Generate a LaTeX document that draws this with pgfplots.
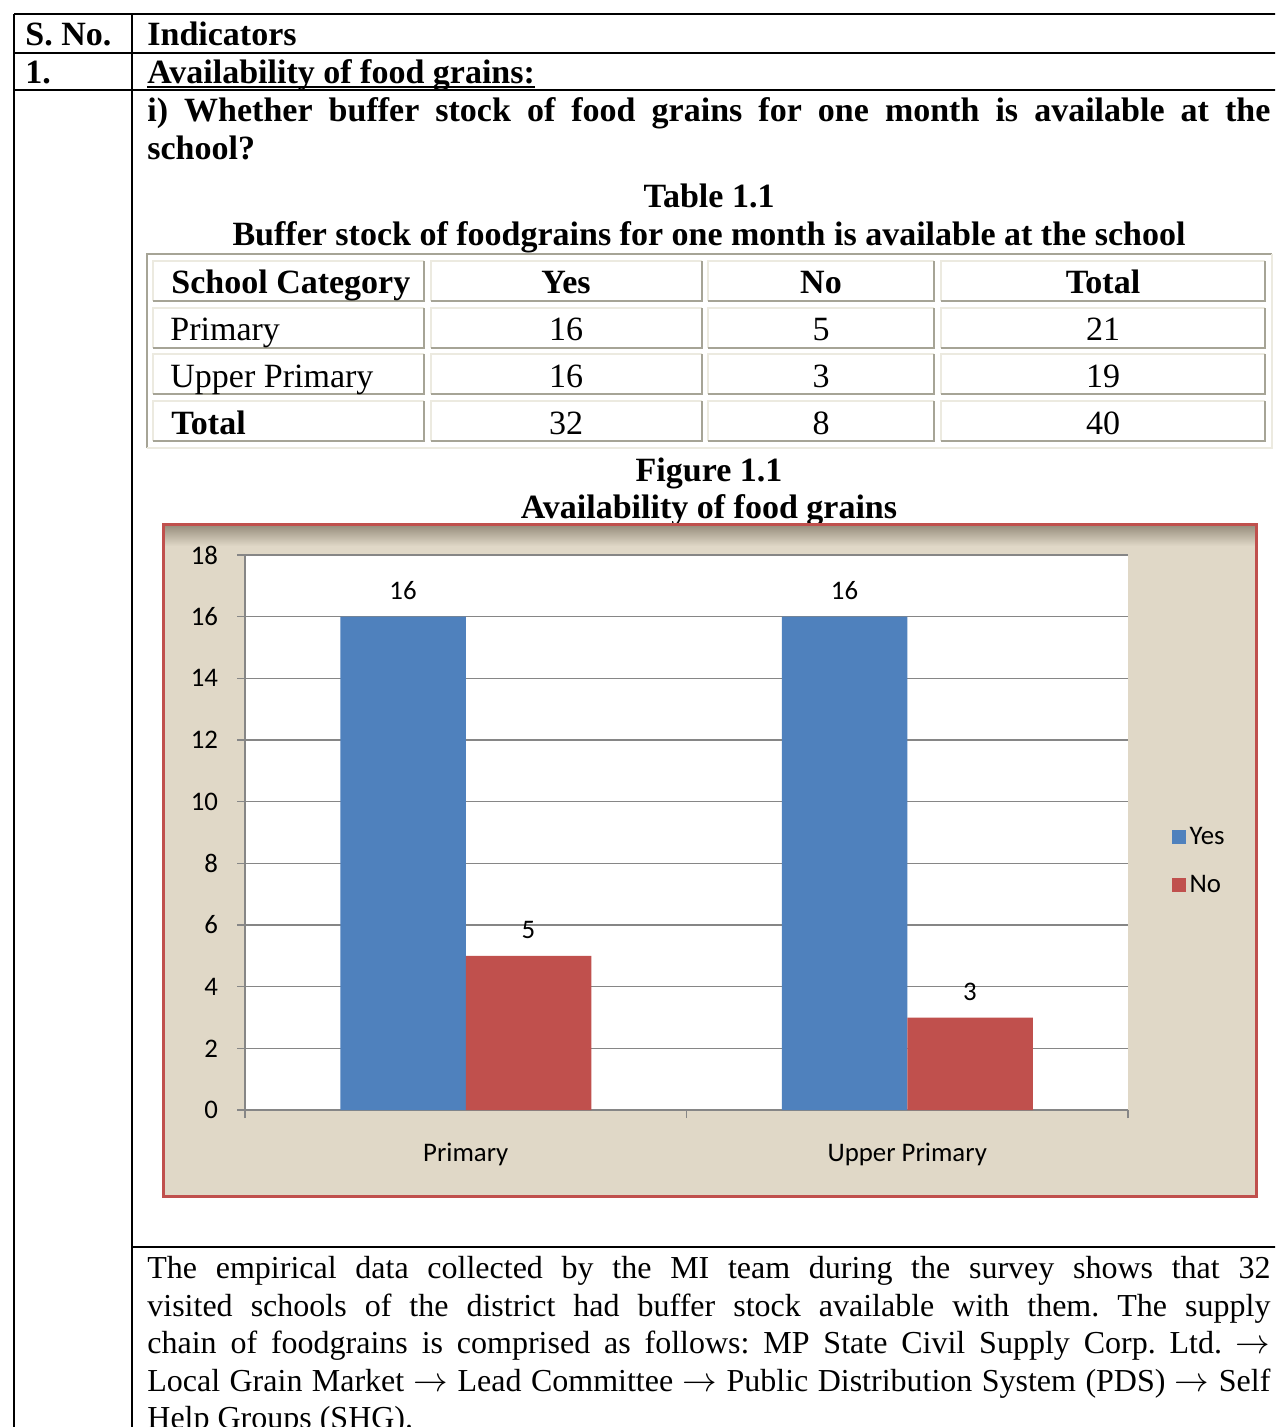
\documentclass[border=0pt]{standalone}
\usepackage{pgfplots}
\pgfplotsset{compat=1.18}
\usepackage{fontspec}
\setmainfont{Liberation Serif}
\newfontfamily\chartfont{Carlito}
\definecolor{barblue}{RGB}{79,129,189}
\definecolor{barred}{RGB}{192,80,77}
\definecolor{chartbg}{RGB}{224,216,199}
\definecolor{chartdark}{RGB}{150,141,124}
\definecolor{gridgray}{RGB}{134,134,134}
\definecolor{celllight}{RGB}{236,234,224}
\definecolor{celldark}{RGB}{166,164,150}
\frenchspacing
\newcommand{\jline}[2]{\hbox to #1{\spaceskip=0.25em plus 1fil minus 0.05em\relax #2}}
\newcommand{\bft}{\fontsize{17}{20}\selectfont\bfseries}
\newcommand{\rgt}{\fontsize{17}{20}\selectfont}
\newcommand{\bod}{\fontsize{16}{19}\selectfont}
\newcommand{\cf}{\chartfont\fontsize{13.4}{15}\selectfont}
\newcommand{\cell}[4]{%
  \draw[celllight,line width=1.3pt] (#1,#4) -- (#1,#2) -- (#3,#2);
  \draw[celldark,line width=1.3pt] (#3,#2) -- (#3,#4) -- (#1,#4);}
\begin{document}
\begin{tikzpicture}
\useasboundingbox (0,0) rectangle (637.5pt,-713.5pt);
\clip (0,0) rectangle (637.5pt,-713.5pt);
\begin{scope}[x=0.5pt,y=-0.5pt]
  % outer table lines
  \draw[line width=1pt] (14,14) -- (1290,14);
  \draw[line width=1pt] (14,53) -- (1290,53);
  \draw[line width=1pt] (14,90) -- (1290,90);
  \draw[line width=1pt] (14,14) -- (14,1440);
  \draw[line width=1pt] (132,14) -- (132,1440);
  \draw[line width=1pt] (132,1247) -- (1290,1247);
  % header texts
  \node[anchor=base west,inner sep=0] at (25,46) {\bft S. No.};
  \node[anchor=base west,inner sep=0] at (147,46) {\bft Indicators};
  \node[anchor=base west,inner sep=0] at (25,84) {\bft 1.};
  \node[anchor=base west,inner sep=0] (av) at (147,84) {\bft Availability of food grains:};
  \draw[line width=1pt] ([yshift=-1.6pt]av.base west) -- ([yshift=-1.6pt]av.base east);
  \node[anchor=base west,inner sep=0] at (147,122) {\bft\jline{561.5pt}{i) Whether buffer stock of food grains for one month is available at the}};
  \node[anchor=base west,inner sep=0] at (147,160) {\bft school?};
  \node[anchor=base,inner sep=0] at (709,208) {\bft Table 1.1};
  \node[anchor=base,inner sep=0] at (709,246) {\bft Buffer stock of foodgrains for one month is available at the school};
  % data table
  \draw[celldark,line width=1.3pt] (147,448) -- (147,254) -- (1272,254);
  \draw[celllight,line width=1.3pt] (1272,254) -- (1272,448) -- (147,448);
  \cell{153}{261}{424}{301}\cell{431}{261}{702}{301}\cell{708}{261}{934}{301}\cell{941}{261}{1265}{301}
  \cell{153}{308}{424}{348}\cell{431}{308}{702}{348}\cell{708}{308}{934}{348}\cell{941}{308}{1265}{348}
  \cell{153}{354}{424}{394}\cell{431}{354}{702}{394}\cell{708}{354}{934}{394}\cell{941}{354}{1265}{394}
  \cell{153}{401}{424}{441}\cell{431}{401}{702}{441}\cell{708}{401}{934}{441}\cell{941}{401}{1265}{441}
  \node[anchor=base west,inner sep=0] at (171,294) {\bft School Category};
  \node[anchor=base,inner sep=0] at (566,294) {\bft Yes};
  \node[anchor=base,inner sep=0] at (821,294) {\bft No};
  \node[anchor=base,inner sep=0] at (1103,294) {\bft Total};
  \node[anchor=base west,inner sep=0] at (170,341) {\rgt Primary};
  \node[anchor=base,inner sep=0] at (566,341) {\rgt 16};
  \node[anchor=base,inner sep=0] at (821,341) {\rgt 5};
  \node[anchor=base,inner sep=0] at (1103,341) {\rgt 21};
  \node[anchor=base west,inner sep=0] at (170,388) {\rgt Upper Primary};
  \node[anchor=base,inner sep=0] at (566,388) {\rgt 16};
  \node[anchor=base,inner sep=0] at (821,388) {\rgt 3};
  \node[anchor=base,inner sep=0] at (1103,388) {\rgt 19};
  \node[anchor=base west,inner sep=0] at (171,434) {\bft Total};
  \node[anchor=base,inner sep=0] at (566,434) {\rgt 32};
  \node[anchor=base,inner sep=0] at (821,434) {\rgt 8};
  \node[anchor=base,inner sep=0] at (1103,434) {\rgt 40};
  % figure title
  \node[anchor=base,inner sep=0] at (709,481) {\bft Figure 1.1};
  \node[anchor=base,inner sep=0] at (709,518) {\bft Availability of food grains};
  % chart area
  \fill[chartbg] (163,524) rectangle (1256,1196);
  \shade[top color=chartdark, bottom color=chartbg] (163,525) rectangle (1256,546);
  \draw[draw=barred,line width=1.5pt] (163,524) rectangle (1256,1196);
  % body text
  \node[anchor=base west,inner sep=0] at (147,1278) {\bod\jline{561.5pt}{The empirical data collected by the MI team during the survey shows that 32}};
  \node[anchor=base west,inner sep=0] at (147,1316) {\bod\jline{561.5pt}{visited schools of the district had buffer stock available with them. The supply}};
  \node[anchor=base west,inner sep=0] at (147,1353) {\bod\jline{561.5pt}{chain of foodgrains is comprised as follows: MP State Civil Supply Corp. Ltd. $\rightarrow$}};
  \node[anchor=base west,inner sep=0] at (147,1391) {\bod\jline{561.5pt}{Local Grain Market $\rightarrow$ Lead Committee $\rightarrow$ Public Distribution System (PDS) $\rightarrow$ Self}};
  \node[anchor=base west,inner sep=0] at (147,1428) {\bod Help Groups (SHG).};
\end{scope}
\begin{axis}[
  at={(122.5pt,-555pt)}, anchor=south west,
  scale only axis, width=441.5pt, height=277.5pt,
  xmin=-0.5, xmax=1.5, ymin=0, ymax=18,
  ybar=0pt, bar width=62.75pt,
  axis x line*=bottom, axis y line*=left,
  axis line style={draw=gridgray, line width=0.75pt, -},
  axis background/.style={fill=white},
  ymajorgrids, grid style={draw=gridgray, line width=0.75pt},
  ytick={0,2,...,18},
  yticklabel style={xshift=-6pt},
  xtick={-0.5,0.5,1.5}, xticklabels={},
  extra x ticks={0,1}, extra x tick labels={Primary,Upper Primary},
  extra x tick style={major tick length=0pt, grid=none, xticklabel style={yshift=-13pt}},
  tick align=outside, major tick length=4pt,
  tick style={draw=gridgray, line width=0.75pt},
  tick label style={font=\cf, text=black},
  /pgf/number format/assume math mode=true,
  nodes near coords,
  nodes near coords style={font=\cf, text=black, yshift=5pt},
  legend style={at={(axis description cs:1.049,0.4486)}, anchor=west, draw=none, fill=none, font=\cf, row sep=10pt, inner sep=0pt},
  legend cell align=left,
]
\addplot[fill=barblue, draw=none, legend image code/.code={\fill[barblue] (0pt,-3.5pt) rectangle (7pt,3.5pt);}] coordinates {(0,16) (1,16)};
\addplot[fill=barred, draw=none, legend image code/.code={\fill[barred] (0pt,-3.5pt) rectangle (7pt,3.5pt);}] coordinates {(0,5) (1,3)};
\legend{Yes,No}
\end{axis}
\end{tikzpicture}
\end{document}
